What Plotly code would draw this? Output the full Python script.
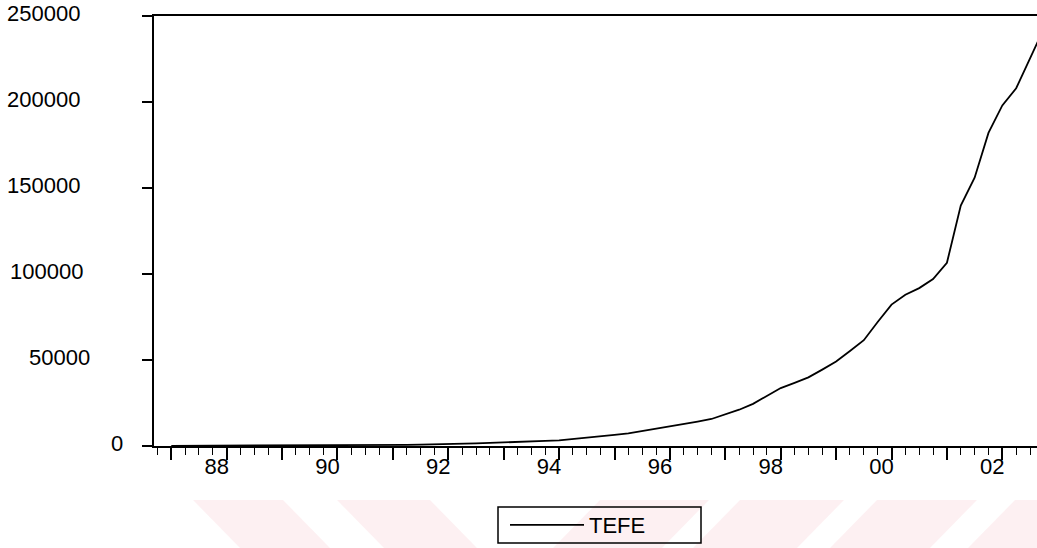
import plotly.graph_objects as go

# ---------------- data ----------------
years = list(range(1987, 2003))
# quarterly TEFE values, Q1..Q4 for each year
tefe_q = [
    [100, 110, 125, 140],          # 1987
    [160, 180, 200, 225],          # 1988
    [250, 280, 310, 340],          # 1989
    [380, 430, 480, 540],          # 1990
    [600, 700, 800, 900],          # 1991
    [1000, 1250, 1500, 1800],      # 1992
    [2000, 2300, 2600, 2950],      # 1993
    [3300, 4000, 4900, 5800],      # 1994
    [6500, 7300, 8600, 9900],      # 1995
    [11200, 12600, 14200, 15700],  # 1996
    [18500, 21100, 24500, 29200],  # 1997
    [33700, 36700, 39900, 44400],  # 1998
    [49100, 55200, 61500, 72100],  # 1999
    [82200, 87900, 91800, 97100],  # 2000
    [106500, 139800, 156000, 182000],  # 2001
    [198000, 208000, 225000, 242700],  # 2002
]
series_name = "TEFE"

x_label_years = [1988, 1990, 1992, 1994, 1996, 1998, 2000, 2002]
x_tick_labels = ["88", "90", "92", "94", "96", "98", "00", "02"]
y_tick_values = [0, 50000, 100000, 150000, 200000, 250000]
y_tick_labels = ["0", "50000", "100000", "150000", "200000", "250000"]

# ---------------- layout constants ----------------
W, H = 1037, 548
L, R, T, B = 154, 0, 16, 102
PW, PH = W - L - R, H - T - B
FONT = "Liberation Sans, Arial, Helvetica, sans-serif"
x_range = [1986.688, 2002.626]

def px(X):
    return (X - L) / PW

def py(Y):
    return (H - B - Y) / PH

# series built from data
x_vals = [y + q / 4 for y in years for q in range(4)]
y_vals = [v for row in tefe_q for v in row]

fig = go.Figure()
fig.add_trace(go.Scatter(
    x=x_vals, y=y_vals, mode="lines", name=series_name,
    line=dict(color="black", width=1.8),
))

# x ticks: long yearly ticks, labels every other year
tick_text = {yr: lab for yr, lab in zip(x_label_years, x_tick_labels)}
fig.update_xaxes(
    range=x_range, showgrid=False, zeroline=False, automargin=False,
    showline=True, linecolor="black", linewidth=2, mirror=True,
    ticks="outside", ticklen=12, tickwidth=1.5, tickcolor="black",
    tickmode="array", tickvals=years,
    ticktext=[tick_text.get(yr, "") for yr in years],
    ticklabelshift=-10, ticklabelstandoff=-12,
    tickfont=dict(family=FONT, size=22, color="black"),
    minor=dict(ticks="outside", ticklen=7, tickwidth=1.2, tickcolor="black",
               tick0=1987, dtick=0.25),
)
fig.update_yaxes(
    range=[0, 250000], showgrid=False, zeroline=False, automargin=False,
    showline=True, linecolor="black", linewidth=2,
    ticks="outside", ticklen=10, tickwidth=1.5, tickcolor="black",
    tickmode="array", tickvals=y_tick_values, showticklabels=False,
)

# y tick labels (positioned as in the scanned figure)
label_right_px = [125, 92, 85, 82, 82, 82]
annotations = []
for v, lab, rx in zip(y_tick_values, y_tick_labels, label_right_px):
    annotations.append(dict(
        x=px(rx), xref="paper", xanchor="right",
        y=v, yref="y", yanchor="middle", yshift=3,
        text=lab, showarrow=False,
        font=dict(family=FONT, size=22, color="black"),
    ))

# faint watermark stripes at the bottom
shapes = []
stripe_col = "rgba(250,215,222,0.38)"
y_top, y_bot = 500, 548
for x0, x1, d in [(193, 283, 47), (337, 430, 47),
                  (600, 709, -47), (740, 844, -47), (877, 977, -47), (1015, 1110, -47)]:
    path = "M {} {} L {} {} L {} {} L {} {} Z".format(
        px(x0), py(y_top), px(x1), py(y_top),
        px(x1 + d), py(y_bot), px(x0 + d), py(y_bot))
    shapes.append(dict(type="path", xref="paper", yref="paper", path=path,
                       fillcolor=stripe_col, line=dict(width=0), layer="below"))

# legend frame
shapes.append(dict(type="rect", xref="paper", yref="paper",
                   x0=px(498), x1=px(701), y0=py(507), y1=py(543),
                   line=dict(color="black", width=1.5), fillcolor="rgba(0,0,0,0)"))

fig.update_layout(
    width=W, height=H,
    margin=dict(l=L, r=R, t=T, b=B, pad=0, autoexpand=False),
    paper_bgcolor="white", plot_bgcolor="white",
    font=dict(family=FONT, size=21, color="black"),
    annotations=annotations, shapes=shapes,
    showlegend=True,
    legend=dict(
        x=px(505), y=py(525), xanchor="left", yanchor="middle",
        borderwidth=0, bgcolor="rgba(0,0,0,0)",
        font=dict(family=FONT, size=22, color="black"),
        itemwidth=74, orientation="h",
    ),
)

fig.write_html("out.html")
